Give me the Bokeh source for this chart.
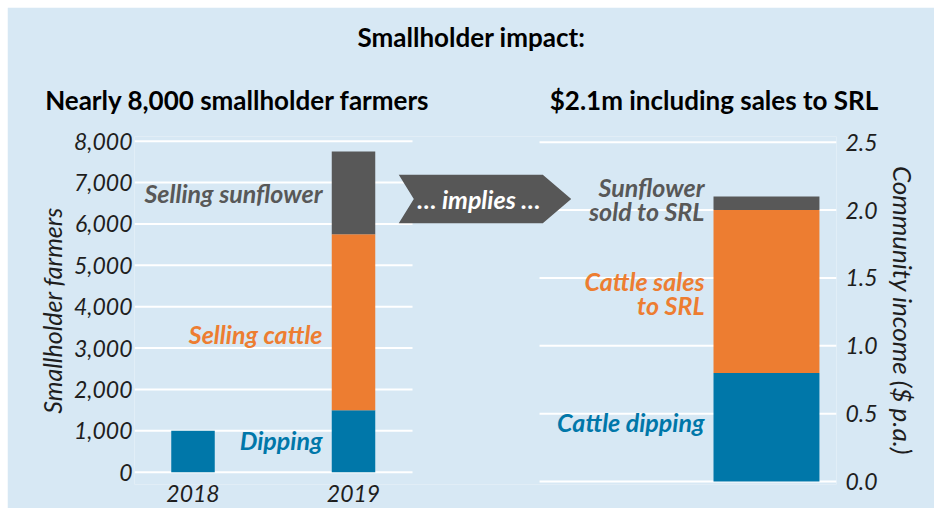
from bokeh.plotting import figure
from bokeh.models import (Range1d, LinearAxis, FixedTicker, ColumnDataSource,
                          NumeralTickFormatter)
from bokeh.embed import file_html
from bokeh.resources import INLINE
from bokeh.core.properties import value

# ---------------- data ----------------
years = ["2018", "2019"]
dipping = [1000, 1500]
selling_cattle = [0, 4250]
selling_sunflower = [0, 2000]

income_parts = ["Cattle dipping", "Cattle sales to SRL", "Sunflower sold to SRL"]
income_values = [0.8, 1.2, 0.1]

farmer_ticks = [0, 1000, 2000, 3000, 4000, 5000, 6000, 7000, 8000]
income_ticks = [0.0, 0.5, 1.0, 1.5, 2.0, 2.5]

main_title = "Smallholder impact:"
left_title = "Nearly 8,000 smallholder farmers"
right_title = "$2.1m including sales to SRL"

# ---------------- style ----------------
BG = "#D7E8F4"
BLUE = "#0077A9"
ORANGE = "#ED7D31"
GREY = "#585858"
INK = "#1E1E1E"
FONT = "Lato"

X_MIN, X_MAX = -0.3645, 4.0093
LEFT_GRID_END = 1.3676
RIGHT_GRID_START = 2.159
INCOME_X = 3.573
YEAR_BAR_W = 0.271
INCOME_BAR_W = 0.66
MAIN_TITLE_X = 1.735
LEFT_TITLE_X = 0.277
RIGHT_TITLE_X = 3.246

p = figure(width=927, height=501, output_backend="svg", toolbar_location=None,
           x_range=Range1d(X_MIN, X_MAX), y_range=Range1d(-297, 8114),
           min_border_left=127, min_border_right=98, min_border_top=129,
           min_border_bottom=24)
p.margin = (7, 0, 0, 7)
p.extra_y_ranges = {"income": Range1d(-0.022, 2.542)}
p.background_fill_color = BG
p.border_fill_color = BG
p.outline_line_color = None
p.xgrid.visible = False
p.ygrid.visible = False

# ---------- gridlines ----------
p.segment(x0=X_MIN, x1=LEFT_GRID_END, y0=farmer_ticks, y1=farmer_ticks,
          line_color="white", line_width=2)
p.segment(x0=RIGHT_GRID_START, x1=X_MAX, y0=income_ticks, y1=income_ticks,
          line_color="white", line_width=2, y_range_name="income")

# ---------- left stacked bars ----------
src = ColumnDataSource(dict(x=list(range(len(years))), year=years, dipping=dipping,
                            cattle=selling_cattle, sunflower=selling_sunflower))
p.vbar_stack(["dipping", "cattle", "sunflower"], x="x", width=YEAR_BAR_W, source=src,
             color=[BLUE, ORANGE, GREY], line_color=None)

# ---------- right stacked bar ----------
bottoms = [sum(income_values[:i]) for i in range(len(income_values))]
tops = [b + v for b, v in zip(bottoms, income_values)]
p.vbar(x=[INCOME_X] * len(income_values), width=INCOME_BAR_W, bottom=bottoms, top=tops,
       color=[BLUE, ORANGE, GREY], line_color=None, y_range_name="income")

# ---------- arrow ----------
ax = [1.282, 2.1794, 2.3564, 2.1794, 1.282, 1.3757]
ay = [7188, 7188, 6603, 6018, 6018, 6603]
p.patch(ax, ay, color="#575757", line_color=None)
p.text(x=[1.781], y=[6603], text=["… implies …"], text_font=value(FONT),
       text_font_style="bold italic", text_font_size="25px", text_color="white",
       text_align="center", text_baseline="middle")

# ---------- bar labels ----------
p.text(x=[0.807, 0.807, 0.807], y=[6760, 3350, 780],
       text=["Selling sunflower", "Selling cattle", "Dipping"],
       text_color=[GREY, ORANGE, BLUE], text_font=value(FONT),
       text_font_style="bold italic", text_font_size="25px",
       text_align="right", text_baseline="middle")
p.text(x=[3.187, 3.187, 3.187], y=[2.08, 1.39, 0.435],
       text=["Sunflower\nsold to SRL", "Cattle sales\nto SRL", "Cattle dipping"],
       text_color=[GREY, ORANGE, BLUE], text_font=value(FONT),
       text_font_style="bold italic", text_font_size="25px", text_line_height=0.8,
       text_align="right", text_baseline="middle", y_range_name="income")

# ---------- axes ----------
def style_axis(a, size="23px", label_size="25px"):
    a.axis_line_color = None
    a.major_tick_line_color = None
    a.minor_tick_line_color = None
    a.major_tick_out = 0
    a.major_tick_in = 0
    a.major_label_text_font = FONT
    a.major_label_text_font_style = "italic"
    a.major_label_text_font_size = size
    a.major_label_text_color = INK
    a.axis_label_text_font = FONT
    a.axis_label_text_font_style = "italic"
    a.axis_label_text_font_size = label_size
    a.axis_label_text_color = INK

ly = p.yaxis[0]
ly.ticker = FixedTicker(ticks=farmer_ticks)
ly.formatter = NumeralTickFormatter(format="0,0")
ly.axis_label = "Smallholder farmers"
ly.major_label_standoff = 2
ly.axis_label_standoff = 4
style_axis(ly)

ry = LinearAxis(y_range_name="income", ticker=FixedTicker(ticks=income_ticks),
                formatter=NumeralTickFormatter(format="0.0"),
                axis_label="Community income ($ p.a.)")
ry.major_label_standoff = 9
ry.axis_label_standoff = 6
style_axis(ry, label_size="26px")
p.add_layout(ry, "right")

bx = p.xaxis[0]
bx.ticker = FixedTicker(ticks=list(range(len(years))))
bx.major_label_overrides = {i: y for i, y in enumerate(years)}
bx.major_label_standoff = 0
style_axis(bx, "23px")

# ---------- headings (as label rows above the plot) ----------
sub = LinearAxis(ticker=FixedTicker(ticks=[LEFT_TITLE_X, RIGHT_TITLE_X]),
                 major_label_overrides={LEFT_TITLE_X: left_title,
                                        RIGHT_TITLE_X: right_title})
style_axis(sub, "26px")
sub.major_label_text_font_style = "bold"
sub.major_label_text_color = "black"
sub.major_label_standoff = 21
p.add_layout(sub, "above")

top = LinearAxis(ticker=FixedTicker(ticks=[MAIN_TITLE_X]),
                 major_label_overrides={MAIN_TITLE_X: main_title})
style_axis(top, "26px")
top.major_label_text_font_style = "bold"
top.major_label_text_color = "black"
top.major_label_standoff = 28
p.add_layout(top, "above")

open("out.html", "w").write(file_html(p, INLINE))
